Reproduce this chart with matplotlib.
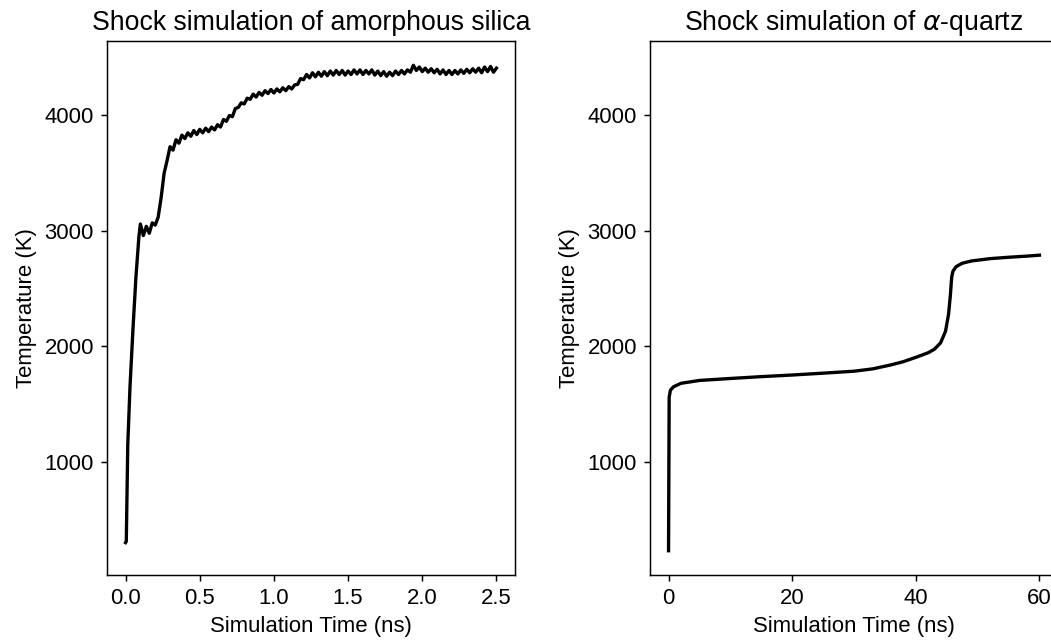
import matplotlib
matplotlib.use("Agg")
import matplotlib.pyplot as plt
import numpy as np

plt.rcParams['font.family'] = ['Liberation Sans', 'DejaVu Sans']
plt.rcParams['mathtext.fontset'] = 'dejavusans'
plt.rcParams['font.size'] = 12

# amorphous silica: steep initial rise, then sampled every 0.02 ns
silica_t_early = [0.0, 0.005, 0.015, 0.03, 0.05, 0.07, 0.09, 0.10]
silica_T_early = [300, 310, 1150, 1650, 2150, 2600, 2950, 3060]
silica_T_late = [
    2960, 3040, 2980, 3070, 3050,
    3120, 3290, 3500, 3610, 3730, 3700, 3790, 3760, 3830, 3800,
    3850, 3820, 3870, 3835, 3880, 3850, 3890, 3860, 3900, 3875,
    3920, 3900, 3965, 3950, 4000, 3990, 4060, 4070, 4110, 4100,
    4150, 4140, 4185, 4160, 4200, 4175, 4215, 4190, 4225, 4195,
    4230, 4205, 4240, 4215, 4250, 4230, 4265, 4270, 4320, 4310,
    4355, 4325, 4370, 4335, 4375, 4340, 4380, 4345, 4385, 4350,
    4390, 4355, 4390, 4350, 4385, 4355, 4395, 4360, 4395, 4355,
    4390, 4360, 4395, 4350, 4385, 4345, 4380, 4340, 4375, 4345,
    4385, 4355, 4390, 4360, 4395, 4375, 4435, 4390, 4420, 4380,
    4410, 4375, 4405, 4370, 4400, 4360, 4395, 4355, 4390, 4355,
    4390, 4360, 4395, 4365, 4400, 4370, 4405, 4375, 4410, 4370,
    4420, 4380, 4425, 4375, 4410,
]
silica_t = np.concatenate([silica_t_early, np.linspace(0.12, 2.5, len(silica_T_late))])
silica_T = np.concatenate([silica_T_early, silica_T_late])

# alpha-quartz
quartz_t = [0.0, 0.05, 0.1, 0.3, 0.8, 2, 5, 10, 15, 20, 25, 30, 33, 36, 38, 40,
            42, 43, 44, 44.8, 45.3, 45.6, 45.8, 46.0, 46.5, 47.5, 49, 52, 55, 58, 60]
quartz_T = [230, 900, 1560, 1620, 1650, 1680, 1705, 1722, 1738, 1752, 1768, 1785,
            1805, 1840, 1868, 1905, 1945, 1975, 2030, 2130, 2280, 2450, 2600, 2650,
            2690, 2720, 2740, 2760, 2772, 2782, 2790]

dpi = 133
fig = plt.figure(figsize=(1051 / dpi, 644 / dpi), dpi=dpi)
ax1 = fig.add_axes([107 / 1051, 1 - 575 / 644, 408 / 1051, 534 / 644])
ax2 = fig.add_axes([650 / 1051, 1 - 575 / 644, 408 / 1051, 534 / 644])
ax2.sharey(ax1)

ax1.plot(silica_t, silica_T, color='black', lw=1.8)
ax2.plot(quartz_t, quartz_T, color='black', lw=1.8)

ax1.set_title('Shock simulation of amorphous silica', fontsize='large')
ax2.set_title(r'Shock simulation of $\alpha$-quartz', fontsize='large')
for ax in (ax1, ax2):
    ax.set_xlabel('Simulation Time (ns)')
    ax.set_ylabel('Temperature (K)')
    ax.set_yticks([1000, 2000, 3000, 4000])
ax2.set_xticks([0, 20, 40, 60])
ax2.tick_params(labelleft=True)

fig.savefig('out.png', dpi=dpi)
